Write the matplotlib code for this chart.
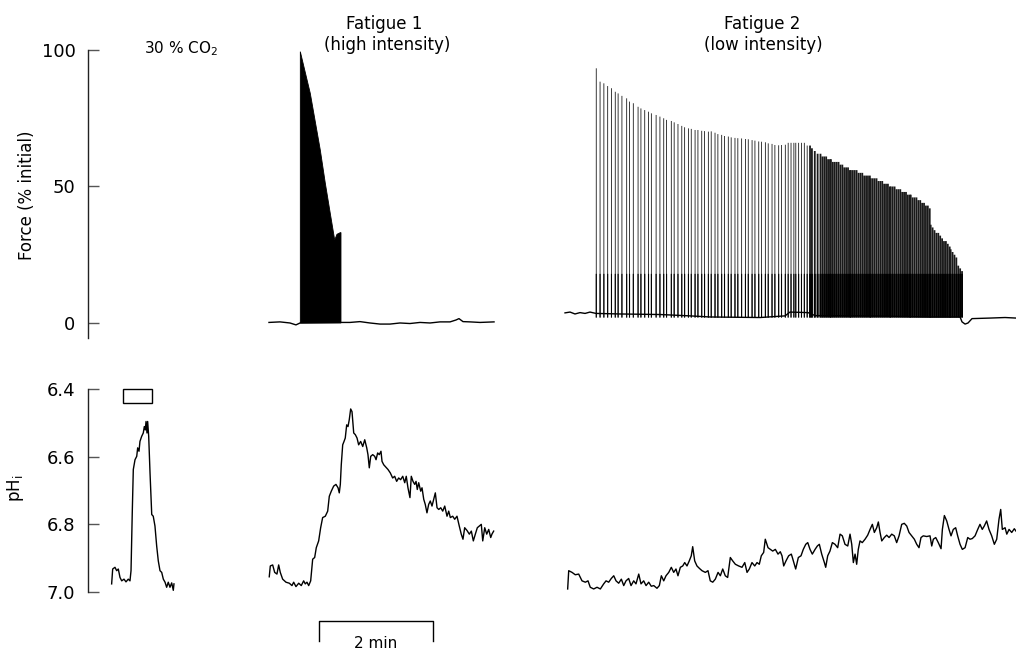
import numpy as np
import matplotlib.pyplot as plt
from matplotlib.patches import Rectangle
from matplotlib.transforms import blended_transform_factory

# time is in seconds along one shared axis, force in % of initial, pH in units
# everything

# --- force, fatigue 1 (high intensity): solid block of tetani + baseline
f1_base = [(190.5, 0.2), (202.1, 0.4), (212.6, 0.0), (218.9, -0.7), (223.2, 0.0),
           (265.3, 0.2), (275.8, 0.2), (286.3, 0.5), (296.8, 0.0), (307.4, -0.4),
           (317.9, -0.4), (328.4, 0.0), (338.9, -0.2), (349.5, 0.2), (360.0, 0.0),
           (370.5, 0.4), (381.1, 0.4), (387.4, 1.1), (390.5, 1.6), (394.7, 0.5),
           (402.1, 0.4), (412.6, 0.2), (427.4, 0.4)]
f1_peak = [(223.5, 0.0), (223.5, 99.4), (234.0, 84.1), (244.5, 63.4), (249.8, 51.2),
           (255.0, 40.2), (259.7, 30.4), (262.1, 32.5), (265.6, 33.1), (266.3, 33.1),
           (266.3, 0.0)]

# --- force, fatigue 2 (low intensity): one entry per tetanus (time, peak)
f2_base = [(502.1, 3.7), (507.4, 4.0), (512.6, 3.3), (517.9, 3.8), (523.2, 3.5),
           (528.4, 4.0), (534.7, 3.5), (560.0, 3.3), (602.1, 3.1), (633.7, 2.6),
           (654.7, 2.2), (707.4, 2.0), (733.7, 2.6), (738.9, 4.0), (757.9, 3.8),
           (765.3, 2.7), (823.2, 2.6), (886.3, 2.2), (917.9, 2.2), (920.0, 0.4),
           (923.2, -0.4), (926.3, 0.0), (930.5, 1.6), (949.5, 1.8), (965.3, 2.0),
           (976.8, 1.8)]
f2_tetani = [(535, 93.3), (539, 88.4), (543, 87.8), (547, 86.8), (551, 86.0), (555, 84.7),
             (558, 84.1), (562, 83.2), (567, 82.3), (570, 81.1), (574, 80.5), (579, 79.2),
             (582, 78.6), (586, 78.0), (590, 77.4), (593, 76.8), (598, 76.2), (602, 75.6),
             (606, 75.0), (609, 74.4), (614, 74.0), (617, 73.5), (621, 72.9), (625, 72.2),
             (628, 71.7), (632, 71.3), (635, 71.1), (639, 70.7), (642, 70.7), (646, 70.4),
             (649, 70.3), (653, 70.1), (656, 70.2), (660, 69.7), (663, 69.2), (667, 68.9),
             (670, 68.5), (674, 68.3), (677, 68.0), (681, 67.8), (684, 67.7), (688, 67.6),
             (692, 67.4), (695, 67.3), (699, 67.0), (702, 66.8), (706, 66.5), (709, 66.4),
             (713, 66.2), (716, 65.8), (720, 65.6), (723, 65.2), (727, 65.1), (730, 65.2),
             (734, 65.3), (737, 66), (740, 66), (743, 66), (745, 66), (748, 66), (751, 66),
             (754, 66), (757, 65), (760, 65), (762, 64), (765, 63), (768, 62), (771, 62),
             (773, 61), (775, 61), (777, 61), (779, 60), (781, 60), (782, 60), (784, 59),
             (786, 59), (788, 59), (790, 59), (792, 58), (794, 58), (796, 57), (798, 57),
             (800, 57), (802, 56), (803, 56), (805, 56), (807, 56), (809, 56), (811, 55),
             (813, 55), (815, 55), (817, 54), (819, 54), (821, 54), (823, 54), (824, 53),
             (826, 53), (828, 53), (830, 53), (832, 52), (834, 52), (836, 52), (838, 51),
             (840, 51), (842, 51), (844, 50), (845, 50), (847, 50), (849, 50), (851, 49),
             (853, 49), (855, 49), (857, 48), (859, 48), (861, 48), (863, 47), (865, 47),
             (866, 47), (868, 46), (870, 46), (872, 46), (874, 45), (876, 45), (878, 44),
             (880, 44), (882, 43), (884, 43), (886, 42), (887, 36), (889, 35), (891, 34),
             (893, 33), (895, 33), (897, 32), (899, 31), (901, 30), (903, 30), (905, 29),
             (907, 28), (908, 27), (910, 26), (912, 25), (914, 24), (916, 21), (918, 20),
             (920, 19)]
twitch_level = 18   # darker lower part of every tetanus
dense_from = 760    # tetani merge into a nearly solid block after this time

# --- pH traces
co2_ph = [(24.9, 6.976), (26.0, 6.932), (28.4, 6.927), (30.2, 6.937), (31.9, 6.932),
          (33.7, 6.957), (35.5, 6.967), (37.9, 6.962), (40.0, 6.970), (42.4, 6.962),
          (44.2, 6.967), (45.3, 6.937), (46.6, 6.766), (47.7, 6.638), (49.5, 6.609),
          (51.3, 6.599), (52.3, 6.574), (53.7, 6.584), (54.7, 6.555), (56.5, 6.540),
          (58.2, 6.530), (59.3, 6.511), (60.3, 6.521), (61.1, 6.496), (62.1, 6.530),
          (62.8, 6.496), (63.9, 6.540), (65.3, 6.648), (67.1, 6.771), (68.7, 6.776),
          (70.5, 6.805), (72.3, 6.864), (74.0, 6.908), (75.8, 6.937), (77.6, 6.942),
          (79.3, 6.962), (81.1, 6.971), (82.8, 6.986), (84.5, 6.971), (86.3, 6.986),
          (88.1, 6.973), (89.8, 6.995), (90.5, 6.976)]
co2_on, co2_off = 37, 67

f1_ph = [(190.8, 6.955), (191.9, 6.923), (194.4, 6.920), (196.5, 6.942), (198.9, 6.947),
         (200.7, 6.920), (202.4, 6.942), (204.9, 6.962), (208.4, 6.971), (211.9, 6.974),
         (214.7, 6.981), (216.5, 6.971), (218.9, 6.984), (221.8, 6.974), (224.5, 6.981),
         (227.0, 6.967), (228.7, 6.976), (230.5, 6.971), (232.3, 6.981), (234.4, 6.967),
         (236.5, 6.903), (238.6, 6.898), (240.3, 6.869), (242.8, 6.849), (244.9, 6.810),
         (247.0, 6.780), (249.8, 6.776), (252.3, 6.761), (254.0, 6.717), (256.1, 6.702),
         (258.6, 6.687), (261.0, 6.682), (263.2, 6.692), (264.5, 6.707), (265.6, 6.682),
         (266.6, 6.624), (268.1, 6.565), (269.5, 6.555), (270.8, 6.545), (272.3, 6.506),
         (273.7, 6.511), (275.0, 6.491), (276.5, 6.459), (277.9, 6.467), (279.7, 6.530),
         (281.4, 6.535), (283.2, 6.545), (284.9, 6.565), (287.0, 6.555), (289.2, 6.570),
         (291.3, 6.550), (293.4, 6.574), (294.7, 6.594), (296.1, 6.633), (297.6, 6.599),
         (299.7, 6.594), (301.8, 6.599), (303.2, 6.609), (304.9, 6.589), (306.6, 6.594),
         (308.4, 6.584), (309.5, 6.614), (311.3, 6.624), (312.9, 6.629), (315.8, 6.638),
         (318.2, 6.648), (320.7, 6.663), (322.8, 6.658), (324.9, 6.673), (327.0, 6.663),
         (329.1, 6.668), (331.3, 6.658), (333.4, 6.677), (335.0, 6.658), (336.8, 6.692),
         (338.9, 6.721), (340.3, 6.658), (342.1, 6.673), (343.9, 6.682), (345.3, 6.673),
         (346.6, 6.697), (348.1, 6.677), (350.2, 6.702), (351.6, 6.692), (353.4, 6.726),
         (355.0, 6.741), (356.8, 6.766), (358.6, 6.741), (360.3, 6.731), (362.1, 6.746),
         (363.9, 6.726), (365.6, 6.707), (367.4, 6.751), (369.2, 6.756), (371.3, 6.751),
         (373.4, 6.761), (375.5, 6.746), (377.9, 6.776), (379.7, 6.761), (381.4, 6.780),
         (383.9, 6.776), (386.0, 6.785), (388.4, 6.776), (390.8, 6.805), (392.9, 6.829),
         (394.7, 6.844), (396.5, 6.810), (398.9, 6.818), (401.4, 6.829), (403.5, 6.820),
         (405.6, 6.849), (407.7, 6.829), (409.8, 6.810), (411.9, 6.805), (414.0, 6.800),
         (415.5, 6.849), (417.6, 6.810), (419.7, 6.829), (421.8, 6.815), (423.9, 6.839),
         (425.2, 6.829), (427.0, 6.820)]

f2_ph = [(504.9, 6.991), (506.0, 6.937), (509.5, 6.942), (512.9, 6.949), (516.5, 6.947),
         (520.0, 6.967), (523.5, 6.971), (526.3, 6.967), (528.7, 6.986), (532.3, 6.991),
         (535.8, 6.986), (539.3, 6.991), (542.8, 6.976), (545.3, 6.967), (548.1, 6.971),
         (550.8, 6.960), (553.4, 6.952), (555.8, 6.967), (558.6, 6.974), (561.4, 6.962),
         (563.9, 6.981), (566.3, 6.967), (569.1, 6.960), (571.6, 6.981), (574.4, 6.967),
         (576.8, 6.976), (579.7, 6.947), (582.1, 6.976), (584.9, 6.967), (587.4, 6.981),
         (590.2, 6.971), (592.9, 6.983), (595.5, 6.981), (598.9, 6.989), (601.4, 6.981),
         (603.5, 6.952), (606.0, 6.967), (608.4, 6.952), (611.3, 6.942), (614.0, 6.927),
         (616.5, 6.942), (618.9, 6.932), (621.0, 6.952), (623.5, 6.927), (626.0, 6.923),
         (628.1, 6.913), (630.5, 6.923), (632.9, 6.908), (635.0, 6.893), (636.5, 6.866),
         (638.6, 6.908), (641.0, 6.923), (643.5, 6.930), (646.3, 6.937), (649.8, 6.942),
         (652.6, 6.937), (655.0, 6.967), (657.6, 6.971), (660.3, 6.962), (663.2, 6.942),
         (665.6, 6.952), (668.1, 6.932), (670.8, 6.952), (673.3, 6.957), (676.1, 6.898),
         (678.6, 6.908), (681.4, 6.918), (684.9, 6.923), (688.4, 6.927), (691.3, 6.913),
         (693.7, 6.942), (696.1, 6.932), (698.9, 6.913), (701.8, 6.923), (704.2, 6.913),
         (706.6, 6.918), (708.7, 6.893), (711.2, 6.883), (712.9, 6.844), (715.8, 6.869),
         (718.2, 6.874), (720.7, 6.879), (723.5, 6.874), (726.3, 6.888), (728.7, 6.881),
         (730.5, 6.893), (732.3, 6.923), (734.7, 6.908), (737.5, 6.893), (740.3, 6.888),
         (741.4, 6.898), (744.9, 6.932), (747.7, 6.898), (750.5, 6.893), (752.9, 6.874),
         (755.5, 6.859), (757.6, 6.854), (760.0, 6.874), (762.4, 6.888), (765.3, 6.874),
         (767.7, 6.864), (769.8, 6.859), (772.3, 6.888), (775.1, 6.913), (776.5, 6.927),
         (778.6, 6.893), (781.0, 6.879), (783.5, 6.854), (786.3, 6.859), (789.1, 6.869),
         (791.6, 6.829), (794.0, 6.834), (796.8, 6.859), (799.7, 6.864), (802.1, 6.829),
         (803.9, 6.859), (805.6, 6.913), (807.4, 6.888), (809.1, 6.918), (810.8, 6.874),
         (812.6, 6.849), (815.0, 6.854), (817.9, 6.844), (820.7, 6.832), (823.2, 6.815),
         (825.6, 6.800), (827.7, 6.824), (830.2, 6.810), (831.9, 6.793), (833.7, 6.824),
         (835.5, 6.849), (838.2, 6.839), (840.7, 6.832), (843.2, 6.839), (846.0, 6.829),
         (848.7, 6.834), (851.2, 6.854), (853.7, 6.834), (856.5, 6.800), (859.2, 6.797),
         (861.8, 6.805), (864.2, 6.824), (867.0, 6.834), (869.8, 6.844), (872.3, 6.859),
         (874.7, 6.869), (876.8, 6.839), (879.2, 6.834), (882.8, 6.836), (886.3, 6.834),
         (888.1, 6.864), (889.8, 6.844), (892.3, 6.839), (895.0, 6.854), (897.9, 6.872),
         (899.3, 6.815), (901.4, 6.774), (903.9, 6.790), (906.3, 6.815), (908.4, 6.834),
         (910.8, 6.815), (913.3, 6.810), (915.4, 6.834), (917.9, 6.859), (920.3, 6.874),
         (923.2, 6.869), (926.0, 6.839), (928.4, 6.844), (930.8, 6.842), (933.7, 6.834),
         (936.5, 6.815), (938.9, 6.800), (941.3, 6.815), (943.4, 6.805), (945.9, 6.790),
         (948.4, 6.815), (951.2, 6.834), (954.0, 6.859), (956.5, 6.844), (958.9, 6.785),
         (960.7, 6.756), (962.4, 6.815), (965.3, 6.810), (967.1, 6.829), (969.5, 6.815),
         (972.3, 6.824), (975.0, 6.813), (976.8, 6.820)]

force_ticks = [0, 50, 100]
ph_ticks = [6.4, 6.6, 6.8, 7.0]
ph_ticklabels = ['6.4', '6.6', '6.8', '7.0']
scale_start, scale_len = 243, 120   # 2 min bar

t_max = 976.8


def xy(pairs):
    a = np.array(pairs, dtype=float)
    return a[:, 0], a[:, 1]


fig = plt.figure(figsize=(10.16, 6.53), dpi=100)
ax_f = fig.add_axes([0.0866, 0.4824, 0.9134, 0.4410])
ax_p = fig.add_axes([0.0866, 0.0934, 0.9134, 0.3109])

for ax in (ax_f, ax_p):
    ax.set_xlim(0, t_max)
    ax.set_xticks([])
    for s in ('top', 'right', 'bottom'):
        ax.spines[s].set_visible(False)
    ax.spines['left'].set_color('#222222')
    ax.spines['left'].set_linewidth(1.0)
    ax.tick_params(axis='y', direction='in', length=8, width=1, pad=9,
                   labelsize=13, color='#555555')
    ax.patch.set_alpha(0)

# force panel
ax_f.set_ylim(-5.5, 100)
ax_f.set_yticks(force_ticks)
ax_f.set_yticklabels([str(v) for v in force_ticks])

t, f = xy(f1_peak)
ax_f.fill(t, f, color='black', lw=0.6)
t, f = xy(f1_base)
ax_f.plot(t, f, color='black', lw=1.0)

t, f = xy(f2_tetani)
dense = t >= dense_from
upper = ax_f.vlines(t, 2.0, f, color='#1a1a1a', lw=np.where(dense, 1.3, 0.6))
lower = ax_f.vlines(t, 2.0, twitch_level, color='black', lw=np.where(dense, 1.3, 0.8))
upper.set_snap(False)
lower.set_snap(False)
t, f = xy(f2_base)
ax_f.plot(t, f, color='black', lw=1.0, clip_on=False)

# pH panel
ax_p.set_ylim(7.0, 6.4)
ax_p.set_yticks(ph_ticks)
ax_p.set_yticklabels(ph_ticklabels)

for trace in (co2_ph, f1_ph, f2_ph):
    t, p = xy(trace)
    ax_p.plot(t, p, color='black', lw=1.0, clip_on=False)

ax_p.add_patch(Rectangle((co2_on, 6.40), co2_off - co2_on, 0.041,
                         fill=False, edgecolor='black', lw=1.0, clip_on=False))

# time scale bar under the pH panel
trans = blended_transform_factory(ax_p.transData, ax_p.transAxes)
ax_p.plot([scale_start, scale_start, scale_start + scale_len, scale_start + scale_len],
          [-0.24, -0.143, -0.143, -0.24], color='black', lw=1.0,
          transform=trans, clip_on=False)
ax_p.text(scale_start + scale_len / 2, -0.255, '2 min', transform=trans,
          ha='center', va='center', fontsize=11)

# labels
fig.text(27 / 1016, 1 - 195 / 653, 'Force (% initial)', rotation=90,
         ha='center', va='center', fontsize=12)
fig.text(15 / 1016, 1 - 488 / 653, 'pH$_\\mathregular{i}$', rotation=90,
         ha='center', va='center', fontsize=12)
fig.text(181 / 1016, 1 - 49 / 653, '30 % CO$_\\mathregular{2}$',
         ha='center', va='center', fontsize=11)
fig.text(384 / 1016, 1 - 24 / 653, 'Fatigue 1', ha='center', va='center', fontsize=12)
fig.text(387 / 1016, 1 - 45 / 653, '(high intensity)', ha='center', va='center', fontsize=12)
fig.text(762 / 1016, 1 - 24 / 653, 'Fatigue 2', ha='center', va='center', fontsize=12)
fig.text(763 / 1016, 1 - 45 / 653, '(low intensity)', ha='center', va='center', fontsize=12)

fig.savefig('out.png', dpi=100)
